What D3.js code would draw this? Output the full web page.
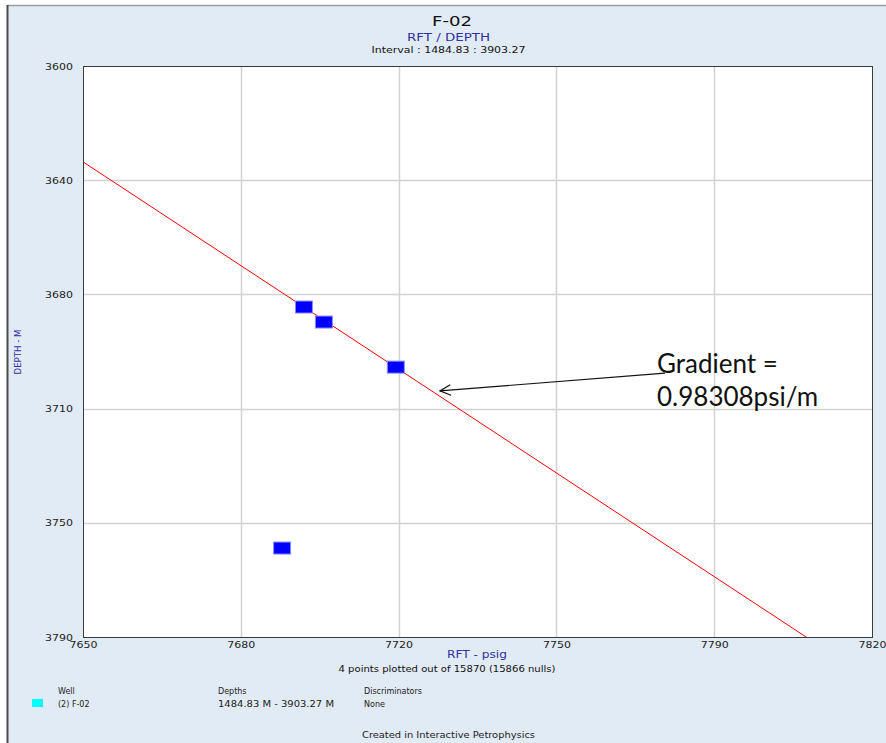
<!DOCTYPE html>
<html>
<head>
<meta charset="utf-8">
<script src="https://cdn.jsdelivr.net/npm/d3@7"></script>
<style>
  html, body { margin: 0; padding: 0; background: #fff; }
  svg { display: block; }
</style>
</head>
<body>
<svg id="chart" width="886" height="743"></svg>
<script>
// RFT pressure points (psig) and depths (m)
const rftPressure = [7697.6, 7701.9, 7717.4, 7692.9];
const rftDepth = [3680.2, 3685.2, 3700.2, 3760.4];

// fitted gradient line, two end points
const linePressure = [7650, 7806];
const lineDepth = [3631.9, 3790.2];

// axis ticks: evenly spaced values, labels as shown by the software
const xTickValues = [7650, 7684, 7718, 7752, 7786, 7820];
const xTickLabels = ["7650", "7680", "7720", "7750", "7790", "7820"];
const yTickValues = [3600, 3638, 3676, 3714, 3752, 3790];
const yTickLabels = ["3600", "3640", "3680", "3710", "3750", "3790"];

// annotation: arrow tail -> tip, in data units
const arrowFrom = [7775.4, 3702.2];
const arrowTo = [7726.9, 3708.1];
const noteLines = ["Gradient =", "0.98308psi/m"];

const svg = d3.select("#chart");
const W = 886, H = 743;
const plot = { left: 83, top: 66, right: 872, bottom: 637 };

const x = d3.scaleLinear().domain([7650, 7820]).range([plot.left, plot.right]);
const y = d3.scaleLinear().domain([3600, 3790]).range([plot.top, plot.bottom]);

// frame background
svg.append("rect").attr("x", 7).attr("y", 5).attr("width", W).attr("height", H)
    .attr("fill", "#e1ebf5");
svg.append("line").attr("x1", 7).attr("x2", W).attr("y1", 5.5).attr("y2", 5.5)
    .attr("stroke", "#9a9a9a").attr("stroke-width", 1.5);
svg.append("line").attr("x1", 7.5).attr("x2", 7.5).attr("y1", 5).attr("y2", H)
    .attr("stroke", "#4a4a4a").attr("stroke-width", 2);

// plot area
svg.append("rect")
    .attr("x", plot.left).attr("y", plot.top)
    .attr("width", plot.right - plot.left).attr("height", plot.bottom - plot.top)
    .attr("fill", "#fff");

// gridlines
const grid = svg.append("g").attr("stroke", "#d2d2d2").attr("stroke-width", 1.5);
grid.selectAll(".gx").data(xTickValues.slice(1, -1)).join("line")
    .attr("x1", d => Math.round(x(d)) + 0.5).attr("x2", d => Math.round(x(d)) + 0.5)
    .attr("y1", plot.top).attr("y2", plot.bottom);
grid.selectAll(".gy").data(yTickValues.slice(1, -1)).join("line")
    .attr("y1", d => Math.round(y(d)) + 0.5).attr("y2", d => Math.round(y(d)) + 0.5)
    .attr("x1", plot.left).attr("x2", plot.right);

// gradient line, clipped to plot
svg.append("clipPath").attr("id", "clip").append("rect")
    .attr("x", plot.left).attr("y", plot.top)
    .attr("width", plot.right - plot.left).attr("height", plot.bottom - plot.top);
svg.append("path")
    .datum(d3.zip(linePressure, lineDepth))
    .attr("clip-path", "url(#clip)")
    .attr("d", d3.line().x(d => x(d[0])).y(d => y(d[1])))
    .attr("fill", "none").attr("stroke", "#ff0000").attr("stroke-width", 1);

// data points, blue rectangles
const mw = 17, mh = 12;
svg.append("g").selectAll("rect")
    .data(d3.zip(rftPressure, rftDepth))
    .join("rect")
    .attr("x", d => x(d[0]) - mw / 2)
    .attr("y", d => y(d[1]) - mh / 2)
    .attr("width", mw).attr("height", mh)
    .attr("fill", "#0000ff").attr("stroke", "#8a8aff").attr("stroke-width", 1);

// plot border
svg.append("rect")
    .attr("x", plot.left + 0.5).attr("y", plot.top + 0.5)
    .attr("width", plot.right - plot.left).attr("height", plot.bottom - plot.top)
    .attr("fill", "none").attr("stroke", "#3a3a3a").attr("stroke-width", 1);

// axes (labels only, no tick marks)
const tickFont = "'DejaVu Sans', Verdana, sans-serif";
const xAxis = svg.append("g").attr("transform", `translate(0,${plot.bottom})`)
    .call(d3.axisBottom(x).tickValues(xTickValues)
        .tickFormat((d, i) => xTickLabels[i]).tickSize(0).tickPadding(12));
const yAxis = svg.append("g").attr("transform", `translate(${plot.left},0)`)
    .call(d3.axisLeft(y).tickValues(yTickValues)
        .tickFormat((d, i) => yTickLabels[i]).tickSize(0).tickPadding(10));
[xAxis, yAxis].forEach(g => {
    g.select(".domain").remove();
    g.selectAll("text")
        .attr("font-family", tickFont).attr("font-size", 9.5)
        .attr("fill", "#222")
        .attr("textLength", 28).attr("lengthAdjust", "spacingAndGlyphs");
});
xAxis.selectAll("text").attr("dy", "0.32em").attr("y", 8);

// header
function label(txt, cx, cy, opts) {
    const t = svg.append("text").text(txt)
        .attr("x", cx).attr("y", cy)
        .attr("font-family", tickFont)
        .attr("font-size", opts.size)
        .attr("fill", opts.fill || "#222")
        .attr("text-anchor", opts.anchor || "middle");
    if (opts.len) t.attr("textLength", opts.len).attr("lengthAdjust", "spacingAndGlyphs");
    if (opts.rotate) t.attr("transform", `rotate(-90,${cx},${cy})`);
    return t;
}
label("F-02", 452, 25.5, { size: 14.5, len: 40, fill: "#111" });
label("RFT / DEPTH", 448.5, 40.5, { size: 10, len: 83, fill: "#3030a0" });
label("Interval : 1484.83 : 3903.27", 448.5, 53.3, { size: 9.5, len: 154, fill: "#111" });

// axis titles
label("RFT - psig", 477, 658, { size: 10, len: 60, fill: "#3030a0" });
label("4 points plotted out of 15870 (15866 nulls)", 447, 672, { size: 8.5, len: 217, fill: "#111" });
label("DEPTH - M", 21, 352, { size: 9.5, len: 45, fill: "#3030a0", rotate: true });

// legend
svg.append("rect").attr("x", 32).attr("y", 699).attr("width", 11).attr("height", 8)
    .attr("fill", "#00ffff");
const legFont = { size: 8, anchor: "start", fill: "#222" };
label("Well", 58, 694, legFont);
label("(2) F-02", 58, 707, legFont);
label("Depths", 218, 694, legFont);
label("1484.83 M - 3903.27 M", 218, 707, { ...legFont, len: 116 });
label("Discriminators", 364, 694, legFont);
label("None", 364, 707, legFont);
label("Created in Interactive Petrophysics", 362, 738, { ...legFont, len: 173 });

// gradient annotation
const ax0 = x(arrowFrom[0]), ay0 = y(arrowFrom[1]);
const ax1 = x(arrowTo[0]), ay1 = y(arrowTo[1]);
const ang = Math.atan2(ay0 - ay1, ax0 - ax1);
const barb = 12, spread = 0.45;
const note = svg.append("g").attr("stroke", "#111").attr("stroke-width", 1.2).attr("fill", "none");
note.append("line").attr("x1", ax0).attr("y1", ay0).attr("x2", ax1).attr("y2", ay1);
note.append("path").attr("d", d3.line()([
    [ax1 + barb * Math.cos(ang + spread), ay1 + barb * Math.sin(ang + spread)],
    [ax1, ay1],
    [ax1 + barb * Math.cos(ang - spread), ay1 + barb * Math.sin(ang - spread)]
]));
svg.append("g").selectAll("text").data(noteLines).join("text")
    .text(d => d)
    .attr("x", 657)
    .attr("y", (d, i) => 373 + i * 33)
    .attr("font-family", "Lato, 'Open Sans', sans-serif")
    .attr("font-size", 26)
    .attr("fill", "#111");
</script>
</body>
</html>
